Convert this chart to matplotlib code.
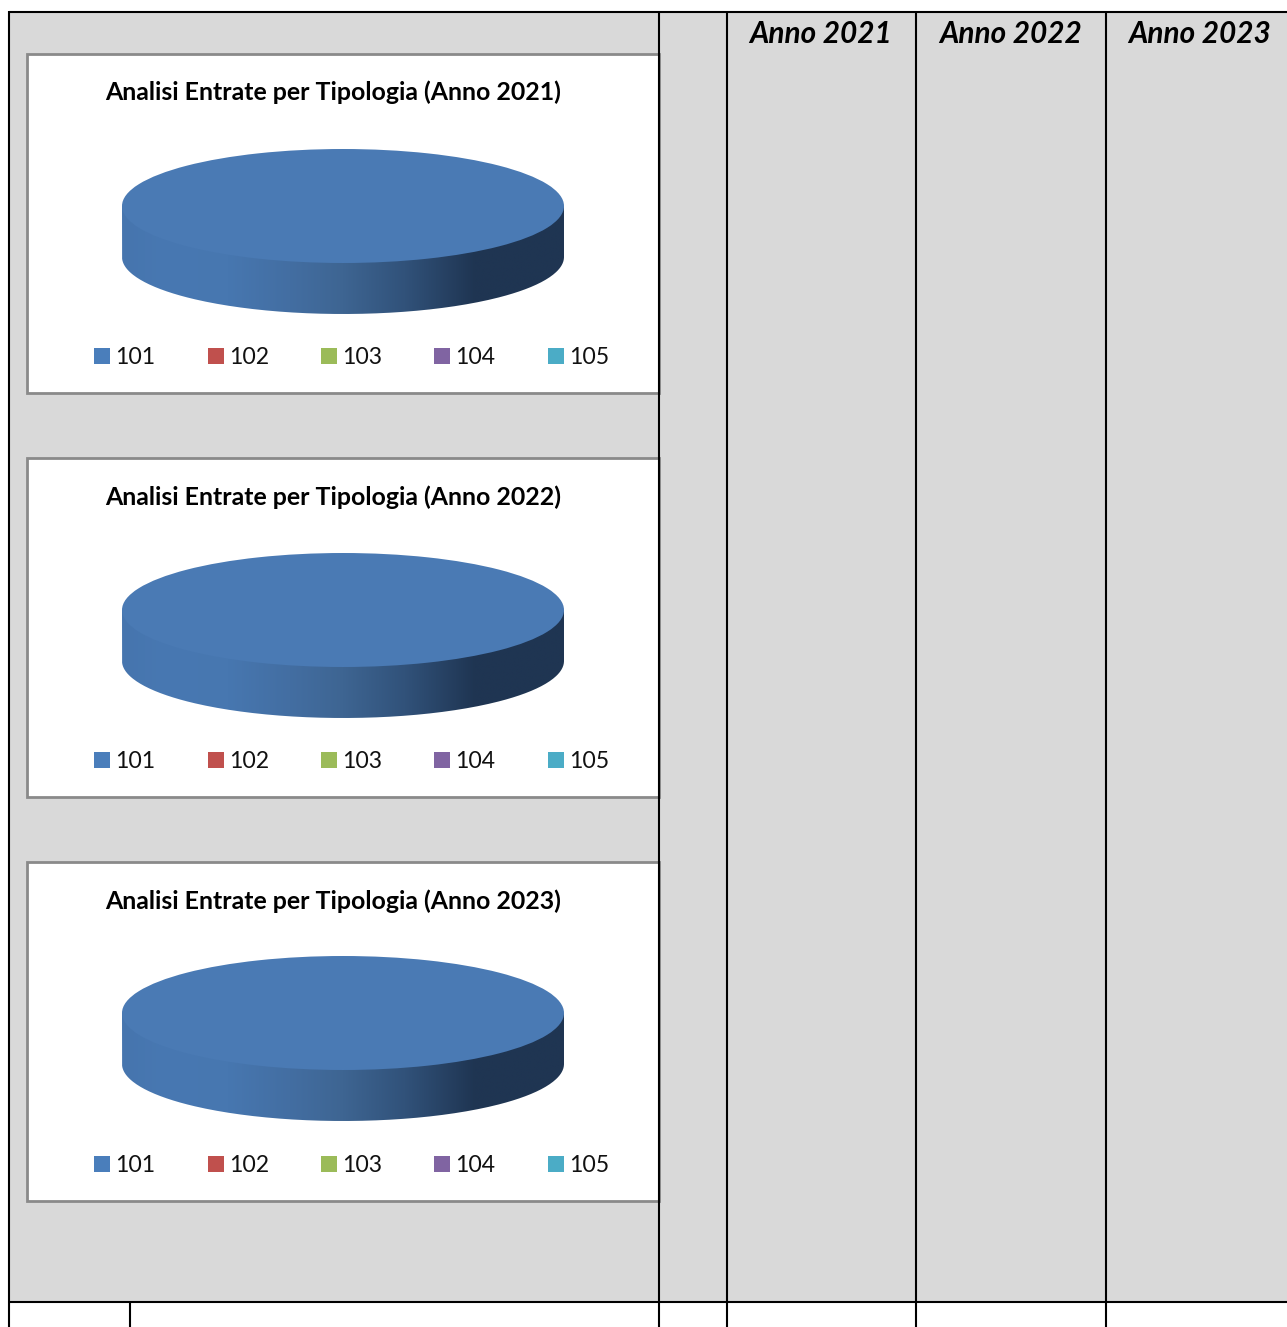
import numpy as np
import matplotlib
matplotlib.use("Agg")
import matplotlib.pyplot as plt
from matplotlib.colors import LinearSegmentedColormap
from matplotlib.patches import Rectangle, PathPatch
from matplotlib.path import Path

W, H = 1287, 1327
plt.rcParams['font.family'] = ['Lato', 'DejaVu Sans']

years = ['2021', '2022', '2023']
categories = ['101', '102', '103', '104', '105']
values_2021 = [100, 0, 0, 0, 0]
values_2022 = [100, 0, 0, 0, 0]
values_2023 = [100, 0, 0, 0, 0]
series = [values_2021, values_2022, values_2023]
colors = ['#4A7EBB', '#C0504D', '#9BBB59', '#8064A2', '#4BACC6']
TOP = '#4A7AB4'
BG = '#D9D9D9'

fig = plt.figure(figsize=(W / 100, H / 100), dpi=100, facecolor='white')

def px_axes(x0, y0, x1, y1, **kw):
    return fig.add_axes([x0 / W, 1 - y1 / H, (x1 - x0) / W, (y1 - y0) / H], **kw)

# page table
bg = px_axes(0, 0, W, H)
bg.set_xlim(0, W)
bg.set_ylim(H, 0)
bg.axis('off')
bg.add_patch(Rectangle((9, 11), W - 9, 1291, fc=BG, ec='none', zorder=0))

chart_tops = [54, 458, 862]
title_y = [92, 497, 901]
pie_tops = [149, 553, 956]
legend_y = [358, 762, 1166]
BOX_H = 339

cmap = LinearSegmentedColormap.from_list('side', [
    (0.00, '#4675AE'), (0.10, '#4878B2'), (0.24, '#4777B0'), (0.38, '#436EA2'),
    (0.50, '#3E6592'), (0.64, '#31527A'), (0.80, '#1F3552'), (1.00, '#1F3552')])

for k, year in enumerate(years):
    top = chart_tops[k]
    bg.add_patch(Rectangle((27, top), 659 - 27, BOX_H, fc='white', ec='#8A8A8A', lw=2.0, zorder=1))
    bg.text(333, title_y[k], f'Analisi Entrate per Tipologia (Anno {year})', ha='center', va='center',
            fontsize=17.9, fontweight='bold', color='black', zorder=3)

    # pie: unit radius mapped on an ellipse, semi-minor 57 px, depth 51 px
    pt = pie_tops[k]
    ax = px_axes(122, pt, 564, pt + 165, zorder=2)
    wedges, _ = ax.pie(series[k], colors=colors, startangle=90, counterclock=False,
                       radius=1, wedgeprops=dict(linewidth=0))
    depth = 51 / 57
    ax.set_aspect('auto')
    ax.set_xlim(-1, 1)
    ax.set_ylim(-1 - depth, 1)
    ax.axis('off')
    t = np.linspace(np.pi, 2 * np.pi, 200)
    xs = np.cos(t)
    ys = np.sin(t)
    verts = np.vstack([[[-1, 0]], np.c_[xs, ys - depth], [[1, 0]], [[-1, 0]]])
    clip = PathPatch(Path(verts), transform=ax.transData, fc='none', ec='none')
    ax.add_patch(clip)
    grad = np.linspace(0, 1, 256)[None, :]
    im = ax.imshow(grad, extent=(-1, 1, -1 - depth, 0), cmap=cmap, aspect='auto', zorder=0, interpolation='bilinear')
    im.set_clip_path(clip)
    for w in wedges:
        w.set_zorder(2)
    wedges[0].set_facecolor(TOP)
    handles = [Rectangle((0, 0), 1, 1, fc=c, ec='none') for c in colors]
    leg = ax.legend(handles, categories, ncol=5, loc='center',
                    bbox_to_anchor=(351.5 / W, 1 - legend_y[k] / H), bbox_transform=fig.transFigure,
                    frameon=False, fontsize=16.6, handlelength=0.69, handleheight=0.68,
                    handletextpad=0.22, columnspacing=2.27, borderpad=0, borderaxespad=0)
    for txt in leg.get_texts():
        txt.set_color('#111111')

# grid lines
for x in [659, 727, 916, 1106]:
    bg.plot([x, x], [11, H], color='black', lw=1.5, zorder=5, solid_capstyle='butt')
bg.plot([9, 9], [11, H], color='black', lw=1.5, zorder=5, solid_capstyle='butt')
bg.plot([130, 130], [1302, H], color='black', lw=1.5, zorder=5, solid_capstyle='butt')
bg.plot([9, W], [11.5, 11.5], color='black', lw=1.5, zorder=5, solid_capstyle='butt')
bg.plot([9, W], [1302, 1302], color='black', lw=1.5, zorder=5, solid_capstyle='butt')

# column headers
header_x = [821, 1011, 1200]
for x, year in zip(header_x, years):
    bg.text(x, 34, f'Anno {year}', ha='center', va='center', fontsize=21.4,
            fontweight='bold', fontstyle='italic', color='black', zorder=6)

fig.savefig('out.png', dpi=100, facecolor='white')
